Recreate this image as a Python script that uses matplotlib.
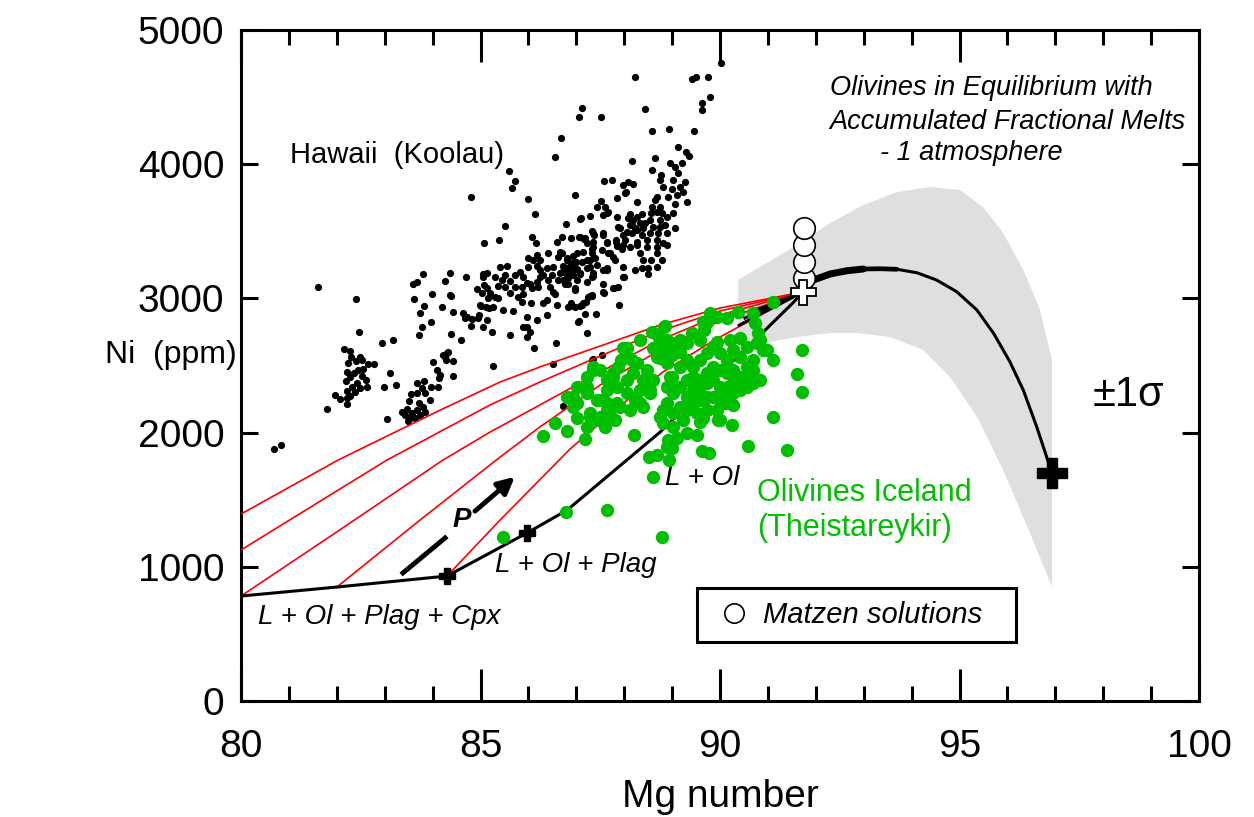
import matplotlib
matplotlib.use("Agg")
import matplotlib.pyplot as plt
import numpy as np

plt.rcParams['font.family'] = ['Liberation Sans', 'DejaVu Sans']

# Hawaii (Koolau) olivines: Mg number, Ni ppm
hawaii_mg = [
    81.61, 82.40, 82.46, 82.94, 83.17, 82.15, 82.28, 82.30, 82.48, 82.23, 82.40, 82.53, 82.65, 82.78,
    82.55, 82.44, 82.21, 82.36, 82.53, 82.61, 82.28, 82.19, 82.42, 82.32, 82.48, 82.63, 82.21, 82.38,
    82.28, 81.96, 82.07, 82.21, 82.21, 81.80, 83.05, 82.99, 83.24, 83.11, 80.69, 80.84, 83.47, 83.57,
    83.67, 83.74, 83.53, 83.42, 83.63, 83.51, 83.67, 83.72, 83.80, 83.84, 83.82, 83.67, 83.55, 83.78,
    83.97, 84.11, 84.15, 84.09, 84.13, 84.43, 84.01, 84.26, 84.22, 84.32, 84.28, 84.43, 84.38, 84.59,
    83.72, 83.78, 83.97, 83.74, 83.82, 83.61, 83.99, 84.20, 84.38, 84.43, 83.59, 83.67, 83.80, 84.26,
    84.36, 84.70, 84.63, 84.72, 84.80, 84.95, 85.05, 85.14, 84.99, 85.18, 84.93, 85.03, 85.07, 85.05,
    85.16, 83.36, 83.84, 83.95, 83.49,
    85.59, 85.72, 85.66, 84.80, 85.99, 86.97, 87.58, 87.75, 87.97, 88.08, 88.18, 88.04, 87.85, 88.27,
    87.52, 87.43, 87.60, 87.64, 87.29, 87.10, 86.14, 85.51, 86.78, 87.85, 88.08, 88.16, 87.91, 88.06,
    88.27, 87.33, 87.37, 87.56, 87.06, 86.89, 86.70, 86.60, 87.16, 87.22, 86.08, 86.16, 85.39, 85.07,
    87.64, 87.83, 87.97, 88.12, 87.95, 88.27, 87.33, 87.54, 87.70, 87.77, 87.01, 87.14, 86.93, 86.66,
    86.41, 86.62, 86.18, 85.99, 86.10, 86.24, 86.81, 86.99, 87.22, 87.39, 87.29, 87.43, 87.64, 87.97,
    88.23, 87.81, 86.85, 86.76, 87.01, 87.08, 86.93, 86.81, 86.51, 86.39, 86.24, 86.18, 85.99, 86.30,
    86.49, 86.66, 86.62, 86.41, 86.24, 86.18, 86.03, 86.08, 86.20, 86.45, 86.76, 86.83, 86.97, 87.22,
    87.35, 87.56, 87.77, 87.87, 87.97, 87.58, 87.33, 87.24, 87.14, 87.08, 86.89, 86.83, 86.97, 86.60,
    86.39, 86.51, 86.30, 86.05, 85.89, 85.78, 85.97, 85.89, 85.72, 85.82, 85.55, 85.41, 85.51, 85.62,
    85.72, 85.87, 85.62, 85.51, 85.45, 85.30, 85.37, 85.14, 85.05, 85.14, 85.20, 85.30, 85.26, 85.11,
    85.01, 85.37, 85.47, 85.68, 85.87, 85.97, 86.18, 86.39, 85.97, 85.89, 86.03, 85.97, 85.62, 85.24,
    84.97, 84.82, 84.68, 84.36, 84.30, 86.12, 86.58, 85.26, 86.51, 87.35, 87.54, 87.06, 87.22, 87.41,
    87.18, 87.89,
    88.23, 89.42, 89.50, 89.75, 90.02, 89.79, 89.62, 89.62, 87.12, 87.06, 87.52, 88.43, 88.58, 88.94,
    89.46, 86.68, 89.12, 89.29, 89.35, 88.16, 88.64, 88.96, 89.21, 88.58, 89.06, 88.77, 89.12, 89.02,
    88.75, 88.02, 89.27, 88.81, 89.00, 89.16, 89.23, 89.10, 88.91, 88.68, 88.64, 89.31, 89.06, 88.75,
    88.58, 87.56, 87.66, 88.12, 88.27, 88.37, 88.56, 88.68, 88.79, 88.89, 89.02, 88.75, 88.54, 88.43,
    88.33, 88.18, 88.12, 87.87, 88.23, 88.39, 88.60, 88.75, 88.85, 89.06, 88.89, 88.71, 88.54, 88.37,
    88.16, 87.97, 87.83, 88.02, 88.27, 88.48, 88.68, 88.81, 88.89, 88.68, 88.48, 88.33, 87.85, 87.56,
    87.35, 87.18, 87.08, 87.35, 87.35, 87.64, 87.66, 87.33, 86.81, 86.70, 87.29, 87.12, 86.91, 86.72,
    86.97, 87.22, 87.35, 87.08, 86.87, 86.70, 86.72, 86.83, 87.01, 87.33, 87.56, 87.64, 88.37, 88.50,
    88.68, 88.56, 88.39, 88.79, 88.68, 88.50, 88.00, 86.97, 87.56, 87.79, 87.33, 87.20, 87.12, 86.87,
    86.56, 87.29, 87.04, 87.33, 86.83, 86.72, 86.56, 87.08,
]
hawaii_ni = [
    3085, 2996, 2750, 2668, 2690, 2623, 2608, 2563, 2563, 2519, 2534, 2541, 2511, 2511,
    2474, 2466, 2452, 2444, 2422, 2392, 2414, 2385, 2370, 2340, 2332, 2340, 2310, 2303,
    2273, 2280, 2250, 2258, 2213, 2176, 2101, 2340, 2355, 2444, 1878, 1908, 2176, 2146,
    2168, 2131, 2109, 2131, 2109, 2235, 2295, 2221, 2191, 2295, 2385, 2370, 2288, 2332,
    2340, 2340, 2429, 2466, 2407, 2422, 2526, 2563, 2578, 2601, 2541, 2534, 2735, 2690,
    2727, 2787, 2824, 2891, 2943, 2996, 3033, 2936, 3018, 2899, 3107, 3122, 3182, 3130,
    3189, 3159, 2891, 2861, 2794, 2854, 2787, 2839, 2951, 2928, 3070, 3040, 3100, 3182,
    3003, 2154, 2154, 2243, 2086,
    3949, 3875, 3823, 3756, 3741, 3771, 3875, 3882, 3845, 3867, 3852, 3793, 3748, 3718,
    3726, 3681, 3681, 3636, 3614, 3599, 3629, 3540, 3554, 3607, 3599, 3547, 3525, 3495,
    3510, 3502, 3472, 3487, 3458, 3450, 3458, 3420, 3443, 3413, 3458, 3413, 3435, 3413,
    3420, 3420, 3398, 3383, 3368, 3398, 3368, 3361, 3338, 3309, 3338, 3346, 3316, 3346,
    3338, 3309, 3323, 3301, 3286, 3286, 3286, 3271, 3286, 3301, 3234, 3249, 3212, 3234,
    3212, 3286, 3234, 3212, 3219, 3182, 3174, 3174, 3234, 3227, 3212, 3241, 3234, 3174,
    3174, 3189, 3137, 3137, 3159, 3122, 3107, 3078, 3085, 3085, 3107, 3107, 3078, 3122,
    3167, 3107, 3078, 3085, 3159, 3040, 3018, 3010, 2966, 2943, 2966, 2936, 2936, 2951,
    2988, 3048, 2966, 2966, 3033, 3010, 3115, 3159, 3174, 3197, 3241, 3234, 3174, 3130,
    3085, 3085, 3040, 3085, 3137, 3159, 3092, 3189, 3159, 3078, 3040, 3010, 2936, 2936,
    2943, 3003, 2914, 2906, 2973, 2861, 2839, 2876, 2787, 2787, 2750, 2712, 2727, 2750,
    2876, 2847, 2854, 3025, 2593, 2630, 2668, 2496, 2511, 2548, 2578, 2832, 2742, 2884,
    2884, 2951,
    4650, 4635, 4650, 4650, 4754, 4501, 4456, 4404, 4419, 4352, 4352, 4411, 4247, 4262,
    4247, 4195, 4128, 4091, 4061, 4024, 4046, 4009, 4009, 3957, 3979, 3920, 3934, 3882,
    3882, 3785, 3867, 3830, 3815, 3830, 3793, 3771, 3756, 3756, 3733, 3718, 3703, 3681,
    3681, 3622, 3644, 3629, 3607, 3629, 3636, 3644, 3636, 3607, 3636, 3584, 3584, 3562,
    3562, 3584, 3547, 3532, 3525, 3525, 3532, 3532, 3547, 3525, 3487, 3487, 3487, 3472,
    3487, 3472, 3435, 3435, 3420, 3435, 3435, 3413, 3398, 3383, 3383, 3338, 3391, 3472,
    3487, 3450, 3458, 3420, 3383, 3413, 3338, 3338, 3301, 3338, 3286, 3271, 3264, 3241,
    3219, 3227, 3189, 3189, 3189, 3197, 3137, 3152, 3137, 3159, 3212, 3227, 3227, 3227,
    3234, 3286, 3286, 3286, 3338, 3182, 3159, 3063, 3048, 3078, 3025, 2973, 2951, 2943,
    3033, 3018, 2824, 2541, 2250, 2198, 4054, 3592,
]

# Theistareykir (Iceland) olivines
iceland_mg = [
    91.11, 90.38, 90.69, 90.73, 89.79, 89.94, 90.15, 89.65, 88.85, 88.58, 89.42, 89.67, 88.33, 88.06,
    88.73, 88.89, 89.16, 89.06, 89.31, 88.81, 88.60, 88.75, 88.89, 89.00, 89.16, 89.58, 89.94, 90.21,
    90.42, 90.56, 90.77, 90.90, 90.79, 91.11, 91.71, 91.61, 91.71, 91.11, 91.40, 90.58, 90.25, 89.77,
    89.62, 89.31, 89.52, 89.58, 90.00, 89.10, 88.91, 89.00, 88.94, 88.68, 88.52, 88.60, 88.79, 87.64,
    86.78, 85.47, 86.30, 86.81, 87.18, 88.20, 86.56, 87.01, 87.22, 87.60, 87.81, 87.43, 86.93, 86.81,
    87.01, 87.22, 87.35, 87.49, 87.64, 87.77, 87.85, 88.06, 88.06, 88.23, 88.39, 87.22, 87.43, 87.64,
    87.85, 88.12, 87.29, 87.49, 87.70, 87.87, 88.06, 88.27, 88.48, 88.60, 88.39, 88.18, 88.33, 88.54,
    89.00, 89.16, 89.31, 89.44, 89.58, 89.73, 89.85, 90.00, 90.15, 90.27, 90.42, 90.56, 90.69, 90.84,
    90.69, 90.56, 90.42, 90.27, 90.15, 90.00, 89.85, 89.73, 89.58, 89.44, 89.31, 89.16, 89.02, 88.89,
    88.81, 88.75, 89.02, 89.16, 89.31, 89.44, 89.58, 89.73, 89.85, 90.00, 90.15, 90.27, 90.42, 90.56,
    90.69, 90.27, 90.15, 90.00, 89.85, 89.73, 89.58, 89.44, 89.31, 89.73, 89.94, 89.52, 89.23, 89.02,
    88.81, 90.27, 90.10, 88.83, 87.93, 88.16, 87.35, 86.93, 88.96, 89.10, 88.89, 87.64, 87.77, 88.68,
    89.00, 87.64, 87.29, 87.91, 88.33, 88.54, 87.49, 87.01, 87.97, 87.22, 89.85, 89.73, 90.98, 90.84,
    89.96, 88.89, 89.65, 90.81, 90.69,
]
iceland_ni = [
    2973, 2899, 2891, 2817, 2891, 2861, 2854, 2824, 2794, 2750, 2742, 2765, 2690, 2630,
    2705, 2690, 2690, 2638, 2668, 2616, 2630, 2556, 2519, 2578, 2601, 2690, 2675, 2690,
    2705, 2638, 2668, 2616, 2742, 2541, 2616, 2437, 2303, 2116, 1870, 1900, 2057, 1848,
    1863, 1997, 1982, 2079, 2094, 1960, 1945, 1885, 1796, 1833, 1818, 1669, 1222, 1423,
    1408, 1222, 1975, 2012, 1952, 1982, 2072, 2109, 2042, 2042, 2094, 2094, 2191, 2265,
    2340, 2414, 2489, 2466, 2392, 2444, 2340, 2392, 2295, 2243, 2191, 2295, 2243, 2221,
    2221, 2168, 2146, 2116, 2131, 2489, 2563, 2519, 2466, 2392, 2392, 2444, 2317, 2295,
    2414, 2489, 2541, 2489, 2541, 2593, 2638, 2593, 2541, 2616, 2563, 2489, 2541, 2392,
    2414, 2392, 2414, 2466, 2444, 2466, 2489, 2444, 2392, 2414, 2392, 2340, 2295, 2221,
    2168, 2116, 2146, 2191, 2265, 2317, 2340, 2370, 2392, 2340, 2340, 2370, 2317, 2340,
    2370, 2295, 2265, 2243, 2265, 2265, 2243, 2221, 2168, 2168, 2168, 2146, 2094, 2042,
    2072, 2206, 2221, 2787, 2541, 2541, 2466, 2265, 2414, 2332, 2340, 2317, 2414, 2563,
    2668, 2168, 2116, 2191, 2221, 2317, 2243, 2221, 2630, 2340, 2869, 2824, 2616, 2690,
    2094, 1893, 2109, 2392, 2466,
]

# Matzen solutions
matzen_mg = [91.75, 91.75, 91.75, 91.75]
matzen_ni = [3152, 3271, 3398, 3525]

# +/- 1 sigma envelope (upper edge left to right, lower edge right to left)
band_up_x = [90.38, 90.90, 91.61, 92.30, 92.99, 93.70, 94.38, 95.01, 95.49, 95.91, 96.33, 96.68, 96.93]
band_up_y = [3137, 3249, 3398, 3562, 3696, 3793, 3830, 3808, 3681, 3487, 3212, 2914, 2541]
band_lo_x = [96.93, 96.47, 95.91, 95.37, 94.80, 94.24, 93.55, 92.86, 92.30, 91.61, 90.90, 90.38]
band_lo_y = [849, 1252, 1721, 2116, 2414, 2616, 2712, 2742, 2742, 2712, 2668, 2616]

# olivines in equilibrium with accumulated fractional melts
ol_x = [91.73, 91.95, 92.30, 92.65, 92.99, 93.34, 93.69, 94.11, 94.52, 94.94, 95.36, 95.71,
        96.05, 96.33, 96.61, 96.93]
ol_y = [3048, 3137, 3182, 3206, 3219, 3221, 3217, 3191, 3137, 3050, 2914, 2740,
        2528, 2317, 2044, 1697]

# crystallisation paths
l_ol_x = [84.30, 85.97, 86.81, 88.75, 89.79, 90.88, 91.52, 91.73]
l_ol_y = [931, 1252, 1423, 2004, 2370, 2742, 2966, 3048]
cpx_x = [80.00, 82.00, 84.30]
cpx_y = [782, 849, 931]

# pressure paths (red)
red_paths = [
    ([80.00, 82.03, 84.16, 85.41, 86.24, 87.50, 88.75, 90.00, 91.73],
     [1393, 1796, 2168, 2377, 2489, 2645, 2802, 2928, 3048]),
    ([80.00, 82.03, 83.05, 85.20, 86.24, 87.50, 88.75, 90.00, 91.73],
     [1125, 1572, 1796, 2206, 2377, 2571, 2757, 2906, 3048]),
    ([80.00, 82.03, 84.22, 85.20, 86.24, 87.50, 88.75, 90.00, 91.73],
     [782, 1267, 1796, 2004, 2206, 2452, 2690, 2876, 3048]),
    ([82.00, 83.74, 85.41, 86.24, 87.50, 88.75, 90.00, 91.73],
     [849, 1349, 1818, 2042, 2355, 2616, 2832, 3048]),
    ([84.30, 85.41, 86.87, 87.91, 88.81, 89.85, 90.42, 91.73],
     [931, 1349, 1878, 2198, 2452, 2683, 2794, 3048]),
]
bundle_start = [(90.40, 2800), (90.52, 2854), (90.66, 2899)]

fig = plt.figure(figsize=(12.54, 8.17), dpi=100)
ax = fig.add_axes([0.1922, 0.1420, 0.7640, 0.8213])

green = '#00bf00'

ax.fill(band_up_x + band_lo_x, band_up_y + band_lo_y, color='#dfdfdf', lw=0, zorder=1)

ax.scatter(hawaii_mg, hawaii_ni, s=27, c='black', linewidths=0, zorder=2)

for rx, ry in red_paths:
    ax.plot(rx, ry, color='red', lw=1.2, zorder=3)

ax.plot(cpx_x, cpx_y, color='black', lw=2.2, zorder=3)
ax.plot(l_ol_x, l_ol_y, color='black', lw=2.2, zorder=3)
for bx, by in bundle_start:
    ax.plot([bx, 91.73], [by, 3048], color='black', lw=2.2, zorder=3)
ax.plot(ol_x, ol_y, color='black', lw=2.2, zorder=3)
# thicker bundle where the equilibrium curves overlap near the source, tapering off
ax.plot(ol_x[:7], ol_y[:7], color='black', lw=3.4, solid_capstyle='round', zorder=3)
ax.plot(ol_x[:5], ol_y[:5], color='black', lw=5, solid_capstyle='round', zorder=3)

ax.scatter(iceland_mg, iceland_ni, s=92, c=green, linewidths=0, zorder=4)

ax.plot(matzen_mg, matzen_ni, 'o', ms=15.5, mfc='white', mec='black', mew=1.2,
        ls='none', zorder=5, label='Matzen solutions')
ax.plot([91.73], [3048], 'P', ms=18, mfc='white', mec='black', mew=1.3, zorder=6)
ax.plot([96.93], [1699], 'P', ms=22, color='black', zorder=6)
ax.plot([84.30, 85.97], [931, 1252], 'P', ms=12, color='black', zorder=6)

# P arrow
ax.plot([83.38, 84.26], [954, 1215], color='black', lw=3.5, zorder=6)
ax.annotate('', xy=(85.76, 1684), xytext=(84.84, 1401),
            arrowprops=dict(arrowstyle='-|>,head_length=1.0,head_width=0.5', color='black', lw=3.5),
            zorder=6)
ax.text(84.61, 1349, 'P', fontsize=20, fontweight='bold', fontstyle='italic',
        ha='center', va='center', zorder=6)

# labels
ax.text(81.02, 4068, 'Hawaii  (Koolau)', fontsize=21, ha='left', va='center')
ax.text(92.30, 4568, 'Olivines in Equilibrium with', fontsize=19.5, fontstyle='italic', ha='left', va='center')
ax.text(92.28, 4314, 'Accumulated Fractional Melts', fontsize=19.5, fontstyle='italic', ha='left', va='center')
ax.text(93.34, 4083, '- 1 atmosphere', fontsize=19.5, fontstyle='italic', ha='left', va='center')
ax.text(97.77, 2280, '±1σ', fontsize=30, ha='left', va='center')
ax.text(90.77, 1550, 'Olivines Iceland', fontsize=22, color=green, ha='left', va='center')
ax.text(90.77, 1289, '(Theistareykir)', fontsize=22, color=green, ha='left', va='center')
ax.text(88.85, 1662, 'L + Ol', fontsize=20, fontstyle='italic', ha='left', va='center')
ax.text(85.30, 1013, 'L + Ol + Plag', fontsize=20, fontstyle='italic', ha='left', va='center')
ax.text(80.35, 626, 'L + Ol + Plag + Cpx', fontsize=20, fontstyle='italic', ha='left', va='center')

leg = ax.legend(loc='lower left', bbox_to_anchor=(0.476, 0.088, 0.333, 0.0865), mode='expand',
                fancybox=False, framealpha=1, edgecolor='black', markerscale=0.9,
                prop={'size': 21, 'style': 'italic'}, handlelength=1.6, handletextpad=0.2,
                borderpad=0.45, borderaxespad=0)
leg.get_frame().set_linewidth(2.2)
leg.set_zorder(7)

ax.set_xlim(80, 100)
ax.set_ylim(0, 5000)
ax.set_xticks(np.arange(80, 101, 5))
ax.set_xticks(np.arange(80, 101, 1), minor=True)
ax.set_yticks(np.arange(0, 5001, 1000))
ax.tick_params(axis='x', which='major', direction='in', top=True, bottom=True,
               length=23, width=2.2, labelsize=28, pad=20)
ax.tick_params(axis='x', which='minor', direction='in', top=True, bottom=True,
               length=11, width=2.2)
ax.tick_params(axis='y', which='major', direction='in', left=True, right=True,
               length=12, width=2.2, labelsize=28, pad=12)
for sp in ax.spines.values():
    sp.set_linewidth(2.2)

ax.set_xlabel('Mg number', fontsize=28, labelpad=10)
ax.set_ylabel('Ni  (ppm)', fontsize=23, rotation=0, ha='center', va='center')
ax.yaxis.set_label_coords(-0.0730, 0.5156)

fig.savefig('out.png', dpi=100)
